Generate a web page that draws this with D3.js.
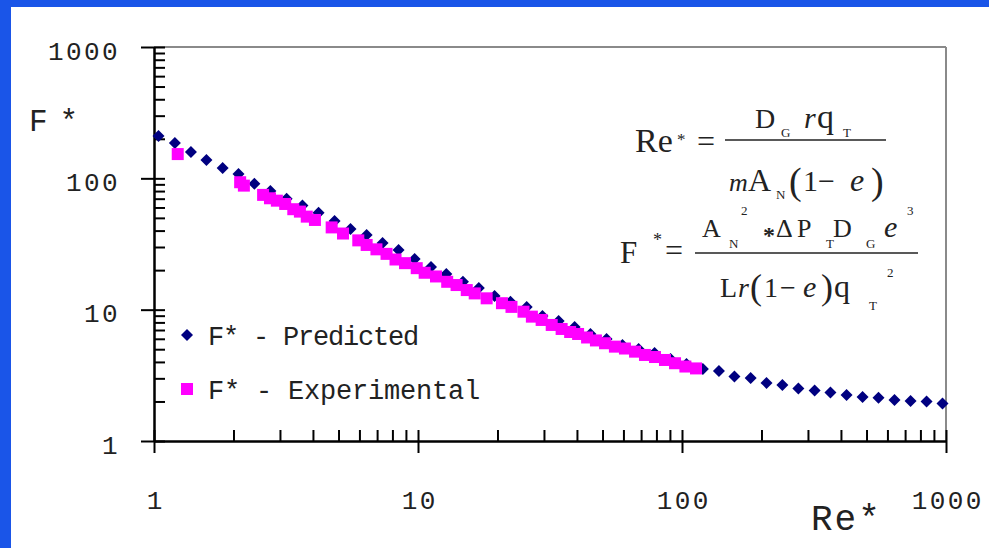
<!DOCTYPE html>
<html><head><meta charset="utf-8">
<script src="https://cdn.jsdelivr.net/npm/d3@7"></script>
<style>html,body{margin:0;padding:0;background:#1a55e8;overflow:hidden}svg{display:block}</style>
</head><body>
<svg id="c" width="989" height="548"></svg>
<script>
// ---- data ----
const predictedRe = [1.04,1.20,1.38,1.58,1.82,2.09,2.40,2.76,3.18,3.65,4.20,4.83,5.55,6.39,7.34,8.44,9.71,11.2,12.8,14.8,17.0,19.5,22.4,25.8,29.6,34.1,39.2,45.0,51.8,59.5,68.5,78.7,90.5,104,120,138,158,182,209,240,276,318,365,420,483,555,638,734,844,970];
const predictedF = [210,186,159,138,120,108,91,80.2,70,62,54.6,47.4,41.2,37.1,32.2,28.5,24.3,21.1,18.7,16.3,14.6,12.7,11.5,10.5,8.95,8.2,7.38,6.53,5.98,5.38,5.02,4.68,4.21,3.86,3.54,3.41,3.10,3.02,2.77,2.67,2.51,2.42,2.34,2.24,2.16,2.13,2.05,2.02,2.00,1.93];
const experimentalRe = [1.23,2.12,2.19,2.59,2.75,2.92,3.14,3.37,3.57,3.79,4.07,4.71,5.20,5.94,6.39,6.96,7.60,8.22,8.93,9.89,10.6,11.7,12.9,14.0,15.3,16.4,18.2,20.8,22.6,25.1,27.0,29.4,32.1,35.0,37.7,40.4,43.7,47.2,51.1,55.7,60.8,66.4,72.4,79.0,86.2,94.1,103,113];
const experimentalF = [153,93.4,88.0,74.8,70.5,67.6,63.8,58.2,55.8,51.1,48.2,42.3,38.0,33.7,31.1,28.8,26.6,24.1,22.6,20.7,19.1,17.9,16.3,15.4,14.1,13.3,12.2,11.2,10.5,9.65,8.85,8.35,7.65,7.13,6.76,6.53,6.14,5.83,5.55,5.23,5.06,4.79,4.52,4.36,4.14,3.91,3.69,3.57];
const majorTicks = [1,10,100,1000];
const tickLabels = ["1","10","100","1000"];
const seriesNames = ["F* - Predicted","F* - Experimental"];
const xTitle = "Re*";
const yTitle = "F*";

// ---- drawing ----
const svg = d3.select("#c");
svg.append("rect").attr("x",11).attr("y",7).attr("width",978).attr("height",541).attr("fill","#fff");

const x = d3.scaleLog().domain([1,1000]).range([154,946]);
const y = d3.scaleLog().domain([1,1000]).range([441,47]);
const monoFont = "'Liberation Mono', 'DejaVu Sans Mono', monospace";
const serifFont = "'Liberation Serif', 'DejaVu Serif', serif";

// frame top/right
svg.append("line").attr("x1",x(1)).attr("x2",x(1000)).attr("y1",y(1000)).attr("y2",y(1000)).attr("stroke","#8a8a8a").attr("stroke-width",2);
svg.append("line").attr("x1",x(1000)).attr("x2",x(1000)).attr("y1",y(1000)).attr("y2",y(1)).attr("stroke","#8a8a8a").attr("stroke-width",2);

function styleAxis(g){
  g.selectAll("path,line").attr("stroke","#000").attr("stroke-width",2);
  g.selectAll("text").attr("fill","#222").attr("font-family",monoFont).attr("font-size",26).attr("letter-spacing","2.4px");
}
// y axis majors (outside) with labels
const yAx = svg.append("g").attr("transform",`translate(${x(1)},0)`)
  .call(d3.axisLeft(y).tickValues(majorTicks).tickSize(13).tickSizeOuter(0).tickPadding(21).tickFormat((d,i)=>tickLabels[i]));
styleAxis(yAx);
yAx.selectAll("text").attr("dy","0.47em");
// y axis inner ticks
const yIn = svg.append("g").attr("transform",`translate(${x(1)},0)`)
  .call(d3.axisRight(y).tickValues(y.ticks()).tickSize(11).tickSizeOuter(0).tickFormat(""));
styleAxis(yIn);
// x axis majors
const xAx = svg.append("g").attr("transform",`translate(0,${y(1)})`)
  .call(d3.axisBottom(x).tickValues(majorTicks).tickSize(12).tickSizeOuter(0).tickFormat((d,i)=>tickLabels[i]));
styleAxis(xAx);
xAx.selectAll("text").attr("y",68).attr("dy",0).attr("dx","1.2px");
const xIn = svg.append("g").attr("transform",`translate(0,${y(1)})`)
  .call(d3.axisTop(x).tickValues(x.ticks()).tickSize(11).tickSizeOuter(0).tickFormat(""));
styleAxis(xIn);

// axis titles
svg.append("text").attr("x",29).attr("y",131).attr("font-family",monoFont).attr("font-size",31).attr("letter-spacing","12px").attr("fill","#222").text(yTitle);
svg.append("text").attr("x",811).attr("y",530).attr("font-family",monoFont).attr("font-size",36).attr("letter-spacing","2px").attr("fill","#222").text(xTitle);

// markers
const diamond = (cx,cy,h)=>`M${cx},${cy-h}L${cx+h},${cy}L${cx},${cy+h}L${cx-h},${cy}Z`;
const pred = predictedRe.map((r,i)=>({r,f:predictedF[i]}));
const exp = experimentalRe.map((r,i)=>({r,f:experimentalF[i]}));
svg.append("g").selectAll("path").data(pred).join("path")
  .attr("d",d=>diamond(x(d.r),y(d.f),6)).attr("fill","#000080");
svg.append("g").selectAll("rect").data(exp).join("rect")
  .attr("x",d=>x(d.r)-6).attr("y",d=>y(d.f)-6).attr("width",12).attr("height",12).attr("fill","#ff00ff");

// legend
svg.append("path").attr("d",diamond(187,335,6)).attr("fill","#000080");
svg.append("rect").attr("x",181).attr("y",383).attr("width",12).attr("height",12).attr("fill","#ff00ff");
svg.append("text").attr("x",208).attr("y",345).attr("font-family",monoFont).attr("font-size",27).attr("letter-spacing","-1.2px").attr("fill","#222").text(seriesNames[0]);
svg.append("text").attr("x",208).attr("y",399).attr("font-family",monoFont).attr("font-size",27).attr("letter-spacing","-0.2px").attr("fill","#222").text(seriesNames[1]);

// equations
const eq = [
  ["Re",635,152,34],["*",677,145,17],["=",697,152,32],
  ["D",755,128,28],["G",781,137,13],["r",804,128,30,1],["q",817,128,34],["T",843,137,13],
  ["m",729,191,26,1],["A",748,191,32],["N",776,199,13],["(",789,194,38],["1",803,191,30],["\u2212",818,191,30],["e",850,191,32,1],[")",871,194,38],
  ["F",620,263,31],["*",653,246,18],["=",665,261,32],
  ["A",702,237,26],["N",729,248,13],["2",741,215,13],["*",763,243,24,0,1],["\u0394",776,237,26],["P",797,237,26],["T",826,248,13],["D",833,237,26],["G",866,248,13],["e",884,237,30,1],["3",907,215,13],
  ["L",720,297,28],["r",738,297,28,1],["(",750,299,36],["1",764,297,28],["\u2212",780,297,28],["e",803,297,30,1],[")",821,299,36],["q",834,297,32],["T",869,310,13],["2",887,277,13]
];
svg.append("g").selectAll("text").data(eq).join("text")
  .attr("x",d=>d[1]).attr("y",d=>d[2]).attr("font-size",d=>d[3])
  .attr("font-style",d=>d[4]?"italic":"normal").attr("font-weight",d=>d[5]?"bold":"normal")
  .attr("font-family",serifFont).attr("fill","#222").text(d=>d[0]);
svg.append("line").attr("x1",725).attr("x2",886).attr("y1",140).attr("y2",140).attr("stroke","#222").attr("stroke-width",1.5);
svg.append("line").attr("x1",695).attr("x2",918).attr("y1",253).attr("y2",253).attr("stroke","#222").attr("stroke-width",1.5);
</script>
</body></html>
